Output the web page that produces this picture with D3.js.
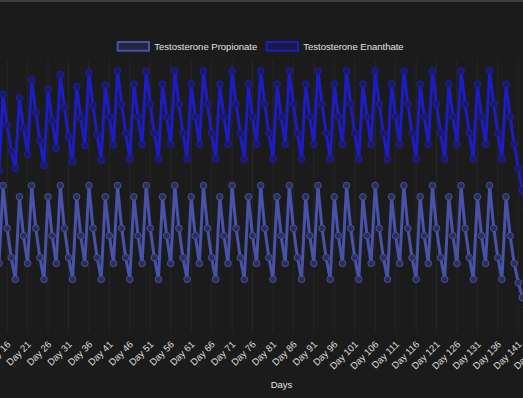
<!DOCTYPE html>
<html>
  <head>
    <meta http-equiv="Content-Type" content="text/html;charset=utf-8"/>
    <script type="text/javascript" src="https://cdn.jsdelivr.net/npm/d3@7"></script>
    <style type="text/css">
      body { margin: 0; background: #1b1b1b; }
      text { font-family: "Liberation Sans", Arial, Helvetica, sans-serif; }
      .tick-label { fill: #dedede; font-size: 9.5px; }
      .legend-label { fill: #e2e2e2; font-size: 9.5px; }
      .axis-title { fill: #e2e2e2; font-size: 9.5px; }
    </style>
  </head>
  <body>
    <svg id="chart"></svg>
    <script type="text/javascript">

    var w = 523, h = 398;

    // visible window of the run: day 14 .. day 143
    var firstDay = 14;

    var tickDays = [11, 16, 21, 26, 31, 36, 41, 46, 51, 56, 61, 66, 71, 76, 81, 86, 91, 96,
                    101, 106, 111, 116, 121, 126, 131, 136, 141, 146];

    // ng/dL, one value per day, starting at day 14
    var propionate = [
      254,
      538, 382, 275, 196, 497, 355, 254,
      538, 382, 275, 196, 497, 355, 254,
      538, 382, 275, 196, 497, 355, 254,
      538, 382, 275, 196, 497, 355, 254,
      538, 382, 275, 196, 497, 355, 254,
      538, 382, 275, 196, 497, 355, 254,
      538, 382, 275, 196, 497, 355, 254,
      538, 382, 275, 196, 497, 355, 254,
      538, 382, 275, 196, 497, 355, 254,
      538, 382, 275, 196, 497, 355, 254,
      538, 382, 275, 196, 497, 355, 254,
      538, 382, 275, 196, 497, 355, 254,
      538, 382, 275, 196, 497, 355, 254,
      538, 382, 275, 196, 497, 355, 254,
      538, 382, 275, 196, 497, 355, 254,
      538, 382, 275, 196, 497, 355, 254,
      538, 382, 275, 196, 497, 355, 254,
      538, 382, 275, 196, 497, 355, 254,
      184, 130, 94
    ];

    var enanthate = [
      591,
      871, 759, 664, 601, 859, 748, 652,
      923, 805, 702, 612, 888, 774, 675,
      943, 824, 716, 625, 900, 786, 684,
      950, 830, 723, 631, 905, 789, 687,
      956, 835, 729, 635, 908, 789, 689,
      956, 835, 729, 635, 908, 789, 689,
      956, 835, 729, 635, 908, 789, 689,
      956, 835, 729, 635, 908, 789, 689,
      956, 835, 729, 635, 908, 789, 689,
      956, 835, 729, 635, 908, 789, 689,
      956, 835, 729, 635, 908, 789, 689,
      956, 835, 729, 635, 908, 789, 689,
      956, 835, 729, 635, 908, 789, 689,
      956, 835, 729, 635, 908, 789, 689,
      956, 835, 729, 635, 908, 789, 689,
      956, 835, 729, 635, 908, 789, 689,
      956, 835, 729, 635, 908, 789, 689,
      956, 835, 729, 635, 908, 789, 689,
      601, 522, 454
    ];

    var seriesNames = ["Testosterone Propionate", "Testosterone Enanthate"];
    var seriesColors = ["#4752a8", "#1c1cc2"];
    var pointFills = ["#2a2f55", "#1a1a60"];

    var svg = d3.select("#chart")
        .attr("width", w)
        .attr("height", h);

    svg.append("rect")
        .attr("width", w).attr("height", h)
        .attr("fill", "#1b1b1b");
    svg.append("rect")
        .attr("width", w).attr("height", 2)
        .attr("fill", "#3d3d3d");

    var plotTop = 59, plotBottom = 333;

    var x = d3.scaleLinear().domain([21, 141]).range([27.6, 518.3]);
    var y = d3.scaleLinear().domain([0, 1000]).range([plotBottom, plotTop]);

    // vertical grid lines
    svg.append("g").selectAll("line").data(tickDays).enter().append("line")
        .attr("x1", function(d) { return x(d); })
        .attr("x2", function(d) { return x(d); })
        .attr("y1", plotTop).attr("y2", plotBottom)
        .attr("stroke", "rgba(255,255,255,0.05)")
        .attr("stroke-width", 1);

    // tick labels, rotated
    svg.append("g").selectAll("text").data(tickDays).enter().append("text")
        .attr("class", "tick-label")
        .attr("text-anchor", "end")
        .attr("transform", function(d) { return "translate(" + (x(d) + 4) + ",345) rotate(-45)"; })
        .text(function(d) { return "Day " + d; });

    svg.append("text")
        .attr("class", "axis-title")
        .attr("x", 281.5).attr("y", 388)
        .attr("text-anchor", "middle")
        .text("Days");

    var line = d3.line()
        .x(function(d, i) { return x(firstDay + i); })
        .y(function(d) { return y(d); });

    [enanthate, propionate].forEach(function(values, k) {
      var s = 1 - k;
      var g = svg.append("g");
      g.append("path")
          .datum(values)
          .attr("d", line)
          .attr("fill", "none")
          .attr("stroke", seriesColors[s])
          .attr("stroke-width", 3)
          .attr("stroke-linejoin", "round");
      g.selectAll("circle").data(values).enter().append("circle")
          .attr("cx", function(d, i) { return x(firstDay + i); })
          .attr("cy", function(d) { return y(d); })
          .attr("r", 3.3)
          .attr("fill", pointFills[s])
          .attr("stroke", seriesColors[s])
          .attr("stroke-width", 1);
    });

    // legend
    var legendX = [116.7, 265.7];
    var legend = svg.append("g").selectAll("g").data(seriesNames).enter().append("g")
        .attr("transform", function(d, i) { return "translate(" + legendX[i] + ",41)"; });
    legend.append("rect")
        .attr("x", 1).attr("y", 1)
        .attr("width", 31.3).attr("height", 8.7)
        .attr("fill", function(d, i) { return pointFills[i]; })
        .attr("fill-opacity", 0.6)
        .attr("stroke", function(d, i) { return seriesColors[i]; })
        .attr("stroke-width", 2);
    legend.append("text")
        .attr("class", "legend-label")
        .attr("x", 37.6).attr("y", 8.8)
        .text(function(d) { return d; });

    </script>
  </body>
</html>
